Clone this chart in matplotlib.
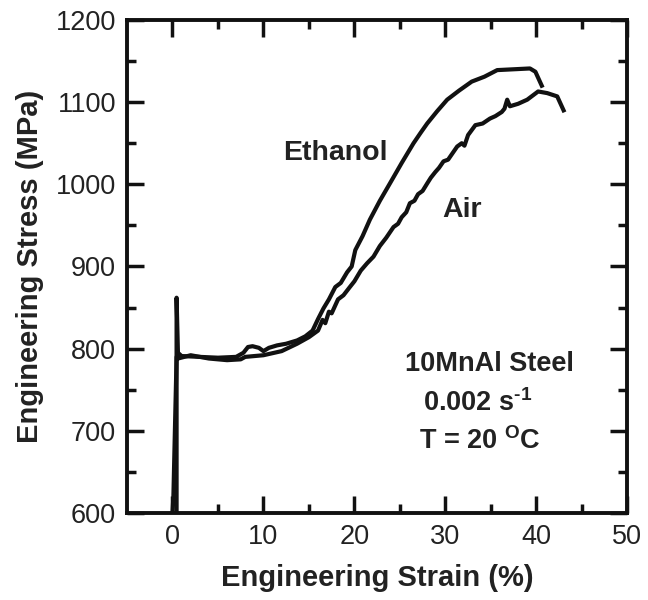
import matplotlib
matplotlib.use("Agg")
import matplotlib.pyplot as plt

plt.rcParams['font.family'] = ['Liberation Sans', 'DejaVu Sans']
plt.rcParams['mathtext.fontset'] = 'custom'
plt.rcParams['mathtext.rm'] = 'Liberation Sans:bold'
plt.rcParams['mathtext.bf'] = 'Liberation Sans:bold'

# Ethanol curve (strain %, stress MPa)
eth_strain = [0.45, 0.45, 0.6, 1.0, 3.0, 5.0, 7.0, 7.8, 8.3, 8.8, 9.5, 10.0, 10.6,
              11.5, 12.5, 13.7, 14.6, 15.4, 16.0, 16.6, 17.2, 17.9, 18.5, 19.2, 19.7,
              20.1, 20.9, 21.7, 22.8, 23.9, 25.2, 26.5, 27.3, 28.0, 29.1, 30.2, 31.5,
              32.9, 34.3, 35.7, 37.5, 39.3, 39.9, 40.6]
eth_stress = [600, 862, 795, 791, 790, 789, 790, 795, 802, 803, 801, 797, 801,
              804, 806, 810, 815, 822, 836, 849, 860, 875, 880, 893, 900,
              920, 937, 957, 980, 1001, 1026, 1050, 1063, 1074, 1089, 1103, 1114,
              1125, 1131, 1139, 1140, 1141, 1137, 1120]

# Air curve
air_strain = [0.0, 0.1, 0.45, 0.6, 2.0, 4.0, 6.0, 7.5, 8.0, 10.0, 12.0, 13.7, 15.0,
              16.0, 16.5, 16.8, 17.2, 17.5, 18.2, 18.8, 19.5, 20.0, 20.7, 21.4, 22.1,
              22.8, 23.5, 24.3, 24.8, 25.2, 25.7, 26.1, 26.6, 27.0, 27.5, 28.0, 28.4,
              28.9, 29.3, 29.8, 30.3, 30.8, 31.3, 31.8, 32.1, 32.5, 32.9, 33.3, 34.1,
              34.9, 35.5, 36.2, 36.5, 36.8, 37.1, 38.0, 39.0, 40.2, 41.2, 42.3, 43.0]
air_stress = [600, 620, 790, 788, 792, 788, 786, 787, 790, 792, 797, 806, 814,
              822, 835, 831, 845, 843, 860, 865, 875, 882, 895, 904, 912,
              925, 935, 948, 952, 960, 966, 977, 980, 988, 992, 1001, 1008,
              1015, 1020, 1028, 1030, 1038, 1046, 1050, 1047, 1060, 1066, 1072, 1074,
              1080, 1083, 1088, 1092, 1103, 1095, 1098, 1103, 1113, 1111, 1107, 1090]

fig = plt.figure(figsize=(6.48, 6.0), dpi=100)
ax = fig.add_axes([0.196, 0.145, 0.772, 0.8217])

ax.plot(eth_strain, eth_stress, color='#111111', lw=3, solid_joinstyle='round')
ax.plot(air_strain, air_stress, color='#111111', lw=3, solid_joinstyle='round')

ax.set_xlim(-5, 50)
ax.set_ylim(600, 1200)
ax.set_xticks([0, 10, 20, 30, 40, 50])
ax.set_xticks([5, 15, 25, 35, 45], minor=True)
ax.set_yticks(range(600, 1201, 100))
ax.set_yticks(range(650, 1200, 100), minor=True)

for s in ax.spines.values():
    s.set_linewidth(2.8)
    s.set_color('#111111')
ax.tick_params(which='both', direction='in', top=True, right=True, width=2.5,
               color='#111111', labelsize=19.5, labelcolor='#222222')
ax.tick_params(which='major', length=12, pad=8)
ax.tick_params(which='minor', length=6.5)

ax.set_xlabel('Engineering Strain (%)', fontsize=21, fontweight='bold', labelpad=10,
              color='#222222')
ax.set_ylabel('Engineering Stress (MPa)', fontsize=21, fontweight='bold', labelpad=8,
              color='#222222')

ax.text(17.9, 1038, 'Ethanol', fontsize=20.5, fontweight='bold', ha='center', va='center',
        color='#222222')
ax.text(31.8, 969, 'Air', fontsize=20.5, fontweight='bold', ha='center', va='center',
        color='#222222')
ax.text(34.9, 781, '10MnAl Steel', fontsize=19.5, fontweight='bold', ha='center',
        va='center', color='#222222')
ax.text(33.5, 734, '0.002 s$^{\\text{-1}}$', fontsize=19.5, fontweight='bold', ha='center',
        va='center', color='#222222')
ax.text(33.8, 688, 'T = 20 $^{\\text{O}}$C', fontsize=19.5, fontweight='bold', ha='center',
        va='center', color='#222222')

fig.savefig('out.png', dpi=100)
